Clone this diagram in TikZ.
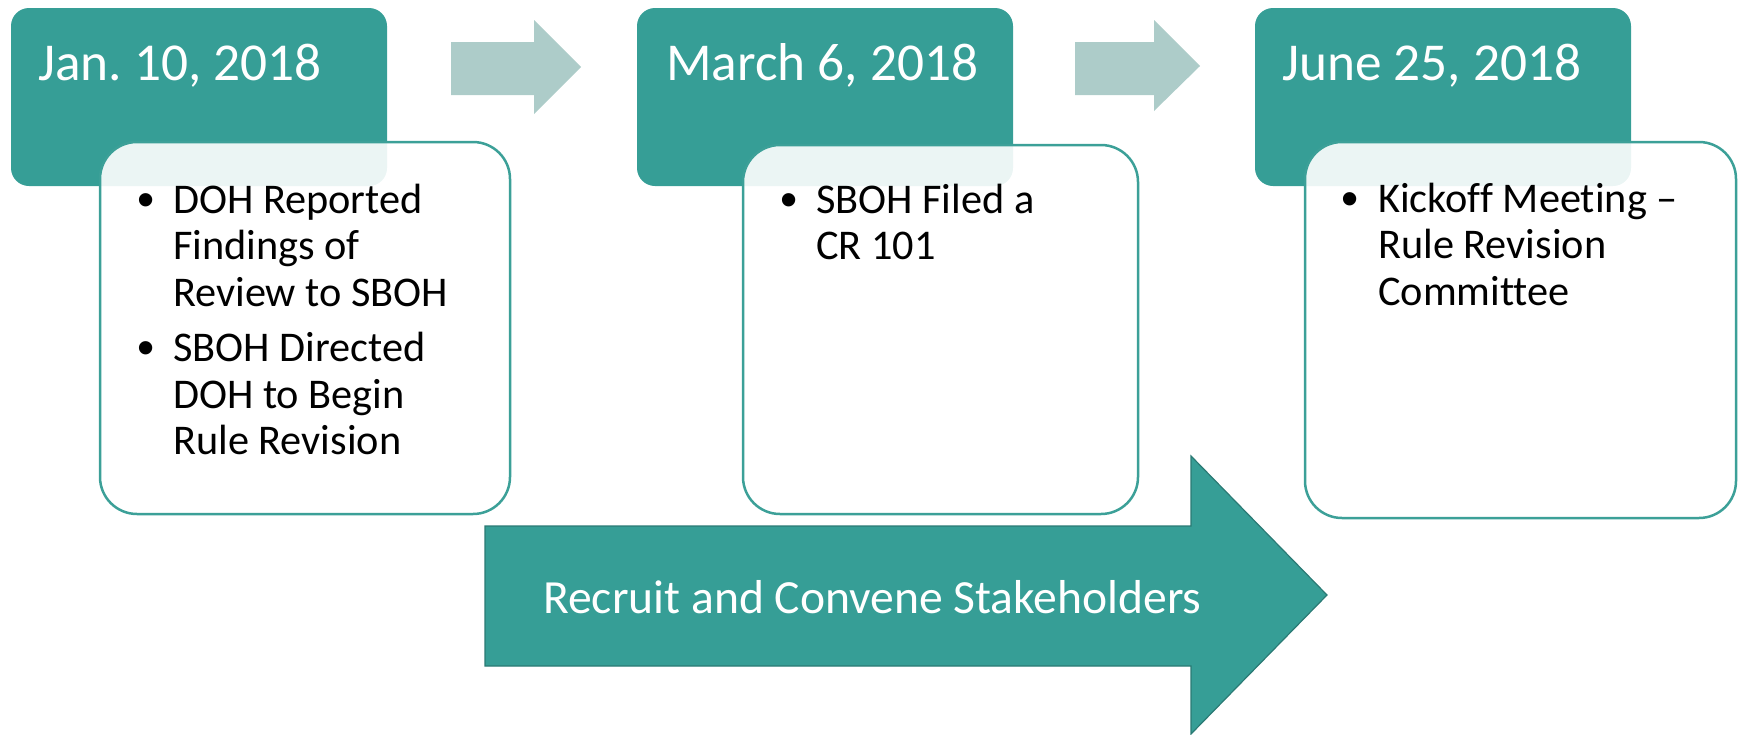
\documentclass[tikz,border=0pt]{standalone}
\usepackage{fontspec}
\setmainfont{Carlito}[Ligatures={NoCommon,NoContextual}]
\newfontfamily\bulletfont{Liberation Sans}
\definecolor{tealmain}{RGB}{54,158,150}
\definecolor{tealline}{RGB}{60,160,152}
\definecolor{lightarrow}{RGB}{173,204,201}
\definecolor{darkline}{RGB}{42,122,116}
\newcommand{\bulletmark}[1]{\makebox[#1][l]{\raisebox{-3pt}{\bulletfont\fontsize{49}{49}\selectfont •}}}
\begin{document}
\begin{tikzpicture}[x=1pt,y=-1pt,
  datebox/.style={fill=tealmain, rounded corners=18pt, minimum width=376pt, minimum height=178pt, anchor=north west, inner sep=0pt, outer sep=0pt},
  infobox/.style={draw=tealline, line width=2.5pt, fill=white, fill opacity=0.9, rounded corners=37pt, anchor=north west, inner sep=0pt, outer sep=0pt},
  datetext/.style={anchor=base west, inner sep=0pt, text=white, font=\fontsize{53.3}{62}\selectfont},
  bullettext/.style={anchor=base west, inner sep=0pt, text=black, font=\fontsize{42.3}{46.5}\selectfont},
  steparrow/.style={fill=lightarrow},
  bigarrow/.style={fill=tealmain, draw=darkline, line width=1.2pt},
  bigtext/.style={anchor=base west, inner sep=0pt, text=white, font=\fontsize{47.6}{56}\selectfont}
]
\useasboundingbox (0,0) rectangle (1745,734);

% date boxes
\node[datebox] (d1) at (11,8) {};
\node[datebox] (d2) at (637,8) {};
\node[datebox] (d3) at (1255,8) {};

% info boxes
\node[infobox, minimum width=410pt, minimum height=372pt] (b1) at (100,142) {};
\node[infobox, minimum width=395pt, minimum height=369pt] (b2) at (743,145) {};
\node[infobox, minimum width=431pt, minimum height=376pt] (b3) at (1305,142) {};

% small step arrows
\fill[steparrow] (451,42) -- (534,42) -- (534,20) -- (581,67) -- (534,114) -- (534,95) -- (451,95) -- cycle;
\fill[steparrow] (1075,42) -- (1154,42) -- (1154,20) -- (1200,66) -- (1154,111) -- (1154,95) -- (1075,95) -- cycle;

% big arrow
\filldraw[bigarrow] (485,526) -- (1191,526) -- (1191,456) -- (1327,595) -- (1191,734) -- (1191,666) -- (485,666) -- cycle;
\node[bigtext] (bt) at (543,613) {Recruit and Convene Stakeholders};

% dates
\node[datetext] (t1) at (38,80) {Jan.\ 10, 2018};
\node[datetext] (t2) at (666,80) {March 6, 2018};
\node[datetext] (t3) at (1282,80) {June 25, 2018};

% bullets
\node[bullettext] (l1) at (137,213) {\begin{tabular}[t]{@{}l@{}l@{}}
\bulletmark{36pt}&DOH Reported\\ &Findings of\\ &Review to SBOH\\[9pt]
\bulletmark{36pt}&SBOH Directed\\ &DOH to Begin\\ &Rule Revision
\end{tabular}};
\node[bullettext] (l2) at (780,213) {\begin{tabular}[t]{@{}l@{}l@{}}
\bulletmark{36pt}&SBOH Filed a\\ &CR 101
\end{tabular}};
\node[bullettext] (l3) at (1341,212) {\begin{tabular}[t]{@{}l@{}l@{}}
\bulletmark{37pt}&Kickoff Meeting –\\ &Rule Revision\\ &Committee
\end{tabular}};
\end{tikzpicture}
\end{document}
